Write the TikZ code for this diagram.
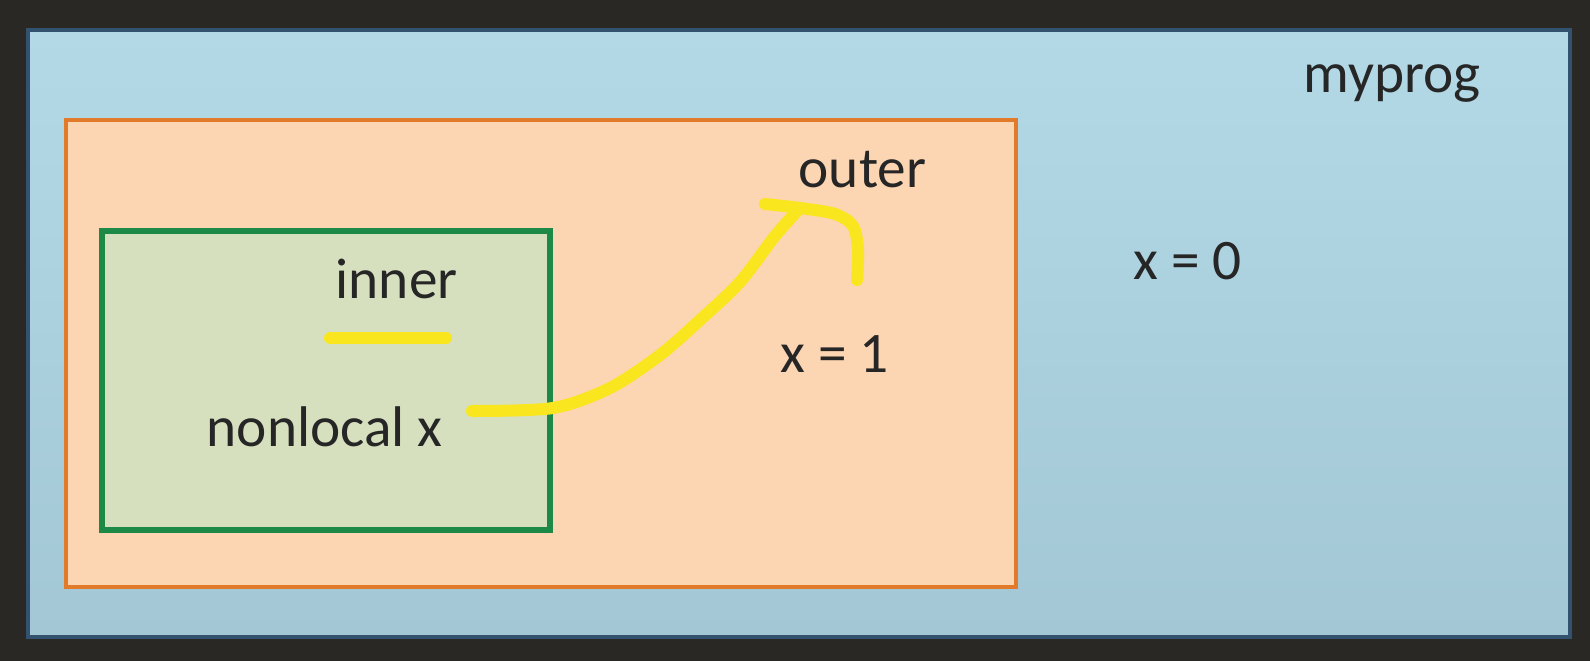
\documentclass[tikz,border=0pt]{standalone}
\usepackage{fontspec}
\setmainfont{Carlito}
\definecolor{frame}{RGB}{42,40,36}
\definecolor{progtop}{RGB}{179,217,231}
\definecolor{progbot}{RGB}{163,199,212}
\definecolor{progline}{RGB}{50,82,112}
\definecolor{outerfill}{RGB}{252,213,178}
\definecolor{outerline}{RGB}{225,122,42}
\definecolor{innerfill}{RGB}{214,224,190}
\definecolor{innerline}{RGB}{28,138,70}
\definecolor{marker}{RGB}{250,230,30}
\definecolor{ink}{RGB}{38,38,38}

\begin{document}
\begin{tikzpicture}[x=0.01cm,y=-0.01cm,
  lbl/.style={anchor=base west,inner sep=0pt,text=ink,
    font=\fontsize{16.3}{19}\selectfont},
  pen/.style={marker,line width=0.12cm,line cap=round,line join=round}]

% =========================
% CADRES
% =========================

\fill[frame] (0,0) rectangle (1590,661);
\useasboundingbox (0,0) rectangle (1590,661);

\shade[top color=progtop,middle color=progtop,bottom color=progbot,
  draw=progline,line width=0.9pt] (28,30) rectangle (1570,637);
\fill[outerfill,draw=outerline,line width=1.2pt] (66,120) rectangle (1016,587);
\fill[innerfill,draw=innerline,line width=1.5pt] (102,231) rectangle (550,530);

% =========================
% TEXTES
% =========================

\node[lbl] (myprog) at (1303,93) {myprog};
\node[lbl] (outer) at (798,188) {outer};
\node[lbl] (inner) at (335,299) {inner};
\node[lbl] (nonlocal) at (206,447) {nonlocal x};
\node[lbl] (xone) at (780,373) {x = 1};
\node[lbl] (xzero) at (1133,280) {x = 0};

% =========================
% TRAITS JAUNES
% =========================

\coordinate (U1) at (330,338);
\coordinate (U2) at (446,338);
\draw[pen] (U1) -- (U2);

% nonlocal x -> outer
\coordinate (S) at (472,411);
\coordinate (T) at (800,208);
\draw[pen] plot[smooth,tension=0.5] coordinates {(S) (553,408) (610,388)
  (660,355) (700,320) (740,282) (775,236) (T)};
\draw[pen] plot[smooth,tension=0.5] coordinates {(765,204) (T) (835,214)
  (853,226) (858,250) (857,280)};

\end{tikzpicture}
\end{document}
